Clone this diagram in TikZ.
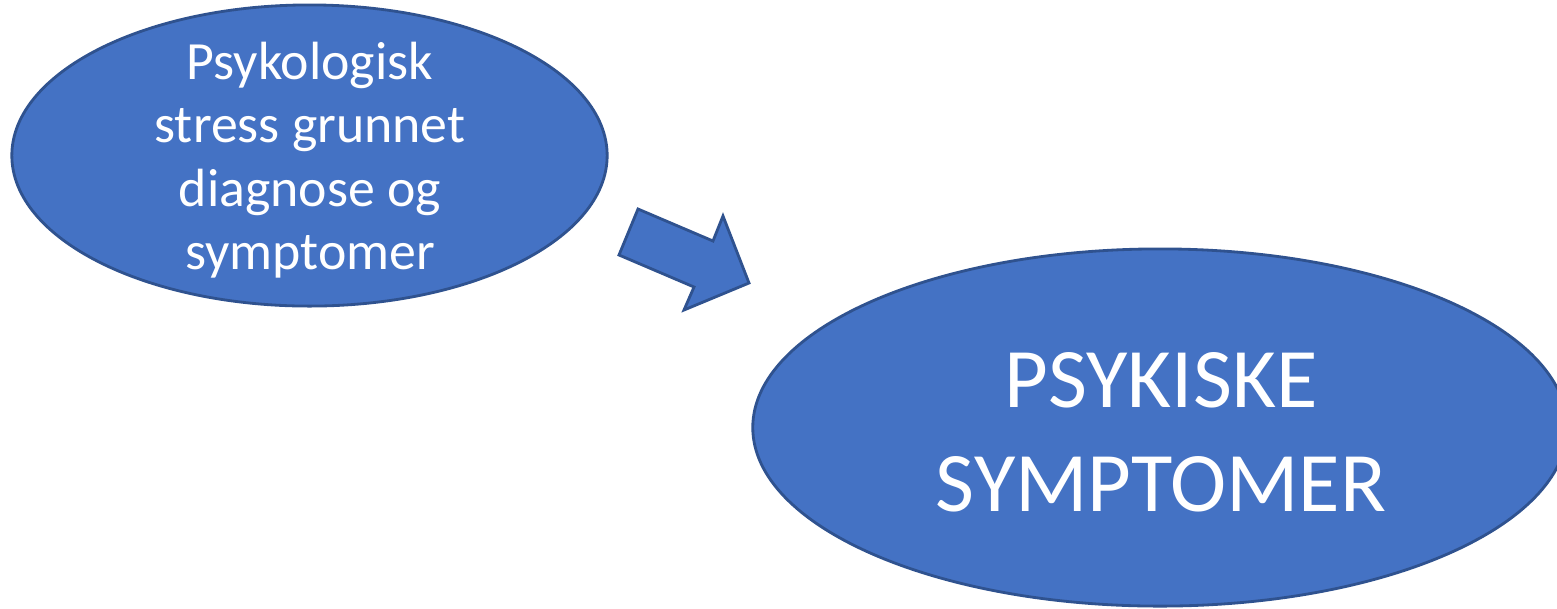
\documentclass[tikz,border=0pt]{standalone}
\usepackage{fontspec}
\setmainfont{Carlito}
\usetikzlibrary{shapes.geometric}
\definecolor{officeblue}{HTML}{4472C4}
\definecolor{officeedge}{HTML}{2F528F}

\begin{document}
\begin{tikzpicture}[x=0.01cm,y=-0.01cm,
        bubble/.style={ellipse,draw=officeedge,fill=officeblue,line width=0.8pt,inner sep=0pt},
        bubbletext/.style={white,align=center,inner sep=0pt}]
        \useasboundingbox (0,0) rectangle (1557,608);
        \node[bubble,minimum width=5.95cm,minimum height=3.01cm] (stress) at (309.5,155.5) {};
        \node[bubbletext,font=\fontsize{15.3}{18}\selectfont] (stresslabel) at (310,160) {Psykologisk\\stress grunnet\\diagnose og\\symptomer};
        \node[bubble,minimum width=8.14cm,minimum height=3.57cm] (psyk) at (1160,427.5) {};
        \node[bubbletext,font=\fontsize{24.1}{29.5}\selectfont] (psyklabel) at (1161,432) {PSYKISKE\\SYMPTOMER};
        % block arrow between the two bubbles
        \draw[officeedge,fill=officeblue,line width=0.8pt,line join=miter]
            (638,209) -- (713,241) -- (723,216) -- (749,283) -- (684,310) -- (694,287) -- (619,255) -- cycle;
    \end{tikzpicture}
\end{document}
